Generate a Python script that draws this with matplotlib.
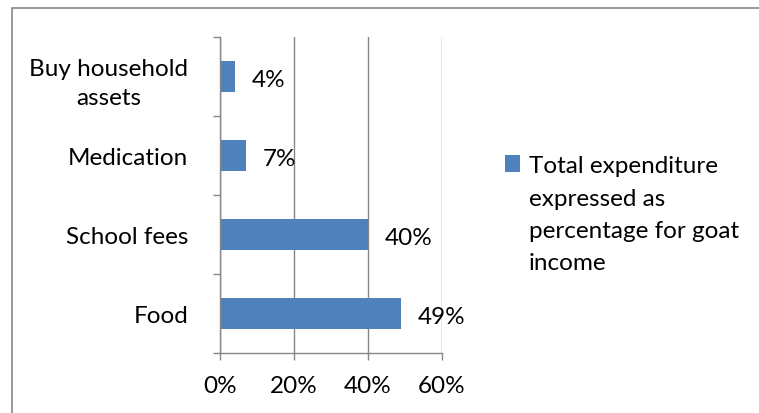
import matplotlib.pyplot as plt
from matplotlib.patches import Rectangle
from matplotlib.ticker import FixedLocator

plt.rcParams['font.family'] = ['Lato', 'DejaVu Sans']

# data (bottom to top)
categories = ['Food', 'School fees', 'Medication', 'Buy household\nassets']
values = [49, 40, 7, 4]
x_ticks = [0, 20, 40, 60]
series_lines = ['Total expenditure', 'expressed as', 'percentage for goat', 'income']

bar_color = '#4F81BD'
grid_color = '#868686'
fs = 17.5

fig = plt.figure(figsize=(7.59, 4.14), dpi=100)
ax = fig.add_axes([220 / 759, 1 - 354 / 414, 222 / 759, 316 / 414])

y = list(range(len(categories)))
bars = ax.barh(y, values, height=0.4, color=bar_color, label=series_lines[0], zorder=3)

ax.set_xlim(0, 60)
ax.set_ylim(-0.5, len(categories) - 0.5)

ax.set_xticks(x_ticks)
ax.set_xticklabels([f'{v}%' for v in x_ticks], fontsize=fs)
ax.set_yticks(y)
ax.set_yticklabels(categories, fontsize=fs, ha='right', multialignment='center',
                   linespacing=1.5)
ax.yaxis.set_minor_locator(FixedLocator([i - 0.5 for i in range(len(categories) + 1)]))

ax.tick_params(axis='y', which='major', length=0, pad=23)
ax.tick_params(axis='y', which='minor', length=5, color=grid_color, width=1)
ax.tick_params(axis='x', which='major', length=5, color=grid_color, width=1, pad=11)

ax.grid(axis='x', color=grid_color, linewidth=1, zorder=0)
for side in ['top', 'right']:
    ax.spines[side].set_visible(False)
for side in ['left', 'bottom']:
    ax.spines[side].set_color(grid_color)
    ax.spines[side].set_linewidth(1)
    ax.spines[side].set_zorder(4)

for b, v in zip(bars, values):
    ax.annotate(f'{v}%', (b.get_width(), b.get_y() + b.get_height() / 2),
                xytext=(12, -2), textcoords='offset points',
                va='center', ha='left', fontsize=fs)

# legend: handle + first line, remaining lines continue below
leg = fig.legend(loc='upper left', bbox_to_anchor=(505 / 759, 1 - 156 / 414),
                 frameon=False, fontsize=fs, handlelength=0.62, handleheight=0.7,
                 handletextpad=0.35, borderaxespad=0, borderpad=0)
for i, line in enumerate(series_lines[1:], start=1):
    fig.text(529 / 759, 1 - (174 + 32 * i) / 414, line, fontsize=fs,
             ha='left', va='baseline')

# outer chart border
fig.patches.append(Rectangle((12 / 759, -0.1), 1.2, 1 - 9 / 414 + 0.1,
                             transform=fig.transFigure, fill=False,
                             edgecolor=grid_color, linewidth=1.2))

fig.savefig('out.png', dpi=100)
